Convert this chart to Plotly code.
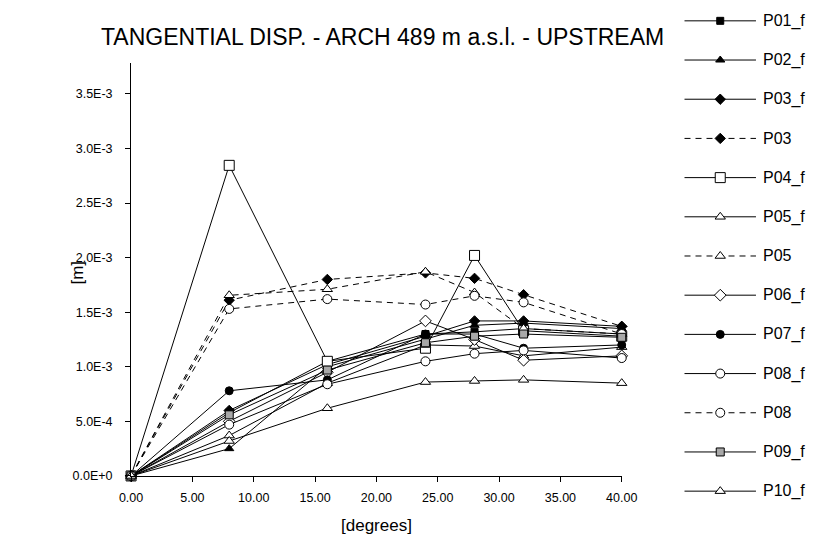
import plotly.graph_objects as go

# ---------------- data (displacements in mm -> converted to m) ----------------
x_deg = [0, 8, 16, 24, 28, 32, 40]

p01_f = [0, 0.58, 1.05, 1.30, 1.32, 1.35, 1.30]
p02_f = [0, 0.25, 1.00, 1.25, 1.38, 1.40, 1.35]
p03_f = [0, 0.60, 1.02, 1.28, 1.42, 1.42, 1.37]
p03   = [0, 1.61, 1.80, 1.86, 1.81, 1.66, 1.37]
p04_f = [0, 2.845, 1.05, 1.17, 2.02, 1.33, 1.28]
p05_f = [0, 0.37, 0.85, 1.20, 1.19, 1.10, 1.18]
p05   = [0, 1.655, 1.71, 1.87, 1.68, 1.35, 1.30]
p06_f = [0, 0.50, 0.95, 1.42, 1.25, 1.06, 1.10]
p07_f = [0, 0.78, 0.88, 1.30, 1.30, 1.17, 1.20]
p08_f = [0, 0.47, 0.84, 1.05, 1.12, 1.15, 1.08]
p08   = [0, 1.53, 1.62, 1.57, 1.65, 1.59, 1.30]
p09_f = [0, 0.56, 0.97, 1.22, 1.28, 1.30, 1.27]
p10_f = [0, 0.32, 0.62, 0.86, 0.87, 0.88, 0.85]

series_names = ["P01_f", "P02_f", "P03_f", "P03", "P04_f", "P05_f", "P05",
                "P06_f", "P07_f", "P08_f", "P08", "P09_f", "P10_f"]
series_values = [p01_f, p02_f, p03_f, p03, p04_f, p05_f, p05,
                 p06_f, p07_f, p08_f, p08, p09_f, p10_f]

y_tick_vals = [0, 0.5e-3, 1.0e-3, 1.5e-3, 2.0e-3, 2.5e-3, 3.0e-3, 3.5e-3]
y_tick_text = ["0.0E+0", "5.0E-4", "1.0E-3", "1.5E-3", "2.0E-3", "2.5E-3", "3.0E-3", "3.5E-3"]
x_tick_vals = [0, 5, 10, 15, 20, 25, 30, 35, 40]
x_tick_text = ["0.00", "5.00", "10.00", "15.00", "20.00", "25.00", "30.00", "35.00", "40.00"]

# ---------------- styles ----------------
styles = {
    "P01_f": dict(symbol="square", fill="black", dash="solid", size=7),
    "P02_f": dict(symbol="triangle-up", fill="black", dash="solid", size=8),
    "P03_f": dict(symbol="diamond", fill="black", dash="solid", size=8),
    "P03":   dict(symbol="diamond", fill="black", dash="6px,5px", size=8),
    "P04_f": dict(symbol="square", fill="white", dash="solid", size=10),
    "P05_f": dict(symbol="triangle-up", fill="white", dash="solid", size=9),
    "P05":   dict(symbol="triangle-up", fill="white", dash="6px,5px", size=9),
    "P06_f": dict(symbol="diamond", fill="white", dash="solid", size=9),
    "P07_f": dict(symbol="circle", fill="black", dash="solid", size=8),
    "P08_f": dict(symbol="circle", fill="white", dash="solid", size=9),
    "P08":   dict(symbol="circle", fill="white", dash="6px,5px", size=9),
    "P09_f": dict(symbol="square", fill="#a8a8a8", dash="solid", size=8),
    "P10_f": dict(symbol="triangle-up", fill="white", dash="solid", size=9),
}

W, H = 820, 548
# plot area in pixels
PX_L, PX_R, PX_T, PX_B = 115, 623, 56, 474
font_main = "Liberation Sans, Arial, sans-serif"

fig = go.Figure()

for name, vals in zip(series_names, series_values):
    st = styles[name]
    fig.add_trace(go.Scatter(
        x=x_deg, y=[v * 1e-3 for v in vals], mode="lines+markers", name=name,
        line=dict(color="black", width=1, dash=st["dash"]),
        marker=dict(symbol=st["symbol"], size=st["size"], color=st["fill"],
                    line=dict(color="black", width=1)),
        showlegend=False, cliponaxis=False,
    ))

# custom legend drawn on a pixel-like auxiliary axis pair
LEG_X0, LEG_X1, LEG_Y0, LEG_DY = 688, 762, 13, 39.7
for i, name in enumerate(series_names):
    st = styles[name]
    yy = LEG_Y0 + i * LEG_DY
    fig.add_trace(go.Scatter(
        x=[LEG_X0, LEG_X1], y=[yy, yy], mode="lines", xaxis="x2", yaxis="y2",
        line=dict(color="black", width=1, dash=st["dash"]),
        showlegend=False, hoverinfo="skip",
    ))
    fig.add_trace(go.Scatter(
        x=[(LEG_X0 + LEG_X1) / 2], y=[yy], mode="markers", xaxis="x2", yaxis="y2",
        marker=dict(symbol=st["symbol"], size=st["size"], color=st["fill"],
                    line=dict(color="black", width=1)),
        showlegend=False, hoverinfo="skip",
    ))
    fig.add_annotation(x=LEG_X1 + 5, y=yy, xref="x2", yref="y2", text=name,
                       showarrow=False, xanchor="left", yanchor="middle",
                       font=dict(family=font_main, size=16, color="black"))

fig.update_layout(
    width=W, height=H,
    margin=dict(l=0, r=0, t=0, b=0),
    paper_bgcolor="white", plot_bgcolor="white",
    font=dict(family=font_main, size=12.5, color="black"),
    xaxis=dict(
        domain=[PX_L / W, PX_R / W], range=[0, 40],
        tickvals=x_tick_vals, ticktext=x_tick_text,
        showline=True, linecolor="black", linewidth=1,
        ticks="outside", ticklen=5, tickcolor="black",
        showgrid=False, zeroline=False, anchor="y",
        tickfont=dict(size=12.5), ticklabelstandoff=5,
    ),
    yaxis=dict(
        domain=[(H - PX_B) / H, (H - PX_T) / H], range=[0, 3.78e-3],
        tickvals=y_tick_vals, ticktext=y_tick_text,
        showline=True, linecolor="black", linewidth=1,
        ticks="outside", ticklen=5, tickcolor="black",
        showgrid=False, zeroline=False, anchor="x",
        tickfont=dict(size=12.5), ticklabelstandoff=10,
    ),
    xaxis2=dict(domain=[LEG_X0 / W - 0.02, 1], range=[LEG_X0 - 0.02 * W, W],
                visible=False, fixedrange=True, anchor="y2"),
    yaxis2=dict(domain=[0, 1], range=[H, 0], visible=False, fixedrange=True, anchor="x2"),
    showlegend=False,
)

fig.add_annotation(text="TANGENTIAL DISP. - ARCH 489 m a.s.l. - UPSTREAM",
                   x=375 / W, y=1 - 29 / H, xref="paper", yref="paper",
                   showarrow=False, xanchor="center", yanchor="middle",
                   font=dict(family=font_main, size=23, color="black"))
fig.add_annotation(text="[degrees]", x=(PX_L + PX_R) / 2 / W, y=1 - 524 / H,
                   xref="paper", yref="paper", showarrow=False,
                   xanchor="center", yanchor="middle",
                   font=dict(family=font_main, size=17, color="black"))
fig.add_annotation(text="[m]", x=60 / W, y=1 - 268 / H, xref="paper", yref="paper",
                   showarrow=False, textangle=-90, xanchor="center", yanchor="middle",
                   font=dict(family=font_main, size=17, color="black"))

fig.write_html("out.html")
